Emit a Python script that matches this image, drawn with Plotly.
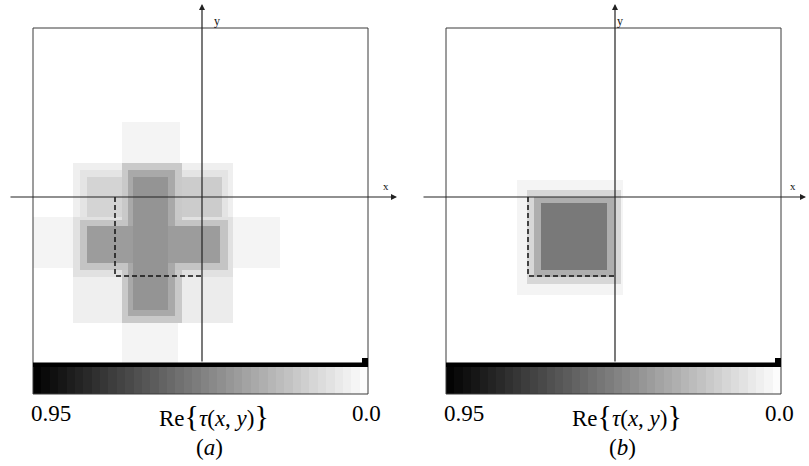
import numpy as np
import plotly.graph_objects as go

W, H = 809, 466

# ---- data: Re{tau(x,y)} patches (x right, y up, origin at axes crossing) ----
a_x0 = [-169, -80, -80, -129, -27, -129, -122, -115, -20, -80, -74, -69, -129, -122, -115]
a_x1 = [78, -22, -24, -74, 31, 31, 26, -80, 20, -20, -27, -34, 31, 26, 18]
a_y0 = [-71, 34, -166, -126, -126, -20, -20, -20, -20, -126, -119, -113, -80, -73, -66]
a_y1 = [-20, 75, -126, -73, -73, 34, 27, 20, 20, 34, 27, 20, -20, -23, -29]
a_tau = [0.04, 0.04, 0.04, 0.06, 0.07, 0.06, 0.10, 0.16, 0.19, 0.20, 0.32, 0.40, 0.11, 0.22, 0.37]

b_x0 = [-98, -88, -81, -74]
b_x1 = [8, 6, -1, -8]
b_y0 = [-98, -87, -80, -73]
b_y1 = [17, 7, 0, -6]
b_tau = [0.04, 0.15, 0.30, 0.50]

aperture_x = [-87, -87, 0]
aperture_y = [0, -79, -79]

tau_max, tau_min = 0.95, 0.0
colorbar_labels = ["0.95", "0.0"]
panel_labels = ["(<i>a</i>)", "(<i>b</i>)"]

X_RANGE = [-169, 166]
Y_RANGE = [-166, 169]

SERIF = "Liberation Serif, Times New Roman, Times, serif"


def build_grid(x0, x1, y0, y1, tau):
    xe = sorted(set(x0 + x1 + X_RANGE))
    ye = sorted(set(y0 + y1 + Y_RANGE))
    z = np.zeros((len(ye) - 1, len(xe) - 1))
    for j in range(len(ye) - 1):
        cy = 0.5 * (ye[j] + ye[j + 1])
        for i in range(len(xe) - 1):
            cx = 0.5 * (xe[i] + xe[i + 1])
            v = 0.0
            for k in range(len(tau)):
                if x0[k] <= cx <= x1[k] and y0[k] <= cy <= y1[k]:
                    v = max(v, tau[k])
            z[j, i] = v
    return xe, ye, z


gray = [[0, "#ffffff"], [1, "#000000"]]

fig = go.Figure()

panels = [
    dict(data=(a_x0, a_x1, a_y0, a_y1, a_tau), left=33, axis_x=202, xa="x", ya="y", cxa="x3", cya="y3"),
    dict(data=(b_x0, b_x1, b_y0, b_y1, b_tau), left=446, axis_x=615, xa="x2", ya="y2", cxa="x4", cya="y4"),
]

TOP, IMG_BOT, CB_TOP, CB_BOT = 28, 363, 367, 394
WIDTH = 335
AXIS_Y = 197

shapes = []
annotations = []
layout_axes = {}


def px(xp):
    return xp / W


def py(yp):
    return 1 - yp / H


cb_edges = np.linspace(tau_min, tau_max, 41)
cb_centers = 0.5 * (cb_edges[:-1] + cb_edges[1:])

for n, p in enumerate(panels):
    xe, ye, z = build_grid(*p["data"])
    fig.add_trace(go.Heatmap(x=xe, y=ye, z=z, zmin=tau_min, zmax=tau_max,
                             colorscale=gray, showscale=False, xaxis=p["xa"], yaxis=p["ya"],
                             hoverinfo="skip"))
    fig.add_trace(go.Scatter(x=aperture_x, y=aperture_y, mode="lines",
                             line=dict(color="#111111", width=1.5, dash="5px,3px"),
                             xaxis=p["xa"], yaxis=p["ya"], showlegend=False, hoverinfo="skip"))
    # colorbar strip
    fig.add_trace(go.Heatmap(x=cb_edges, y=[0, 1], z=[cb_centers], zmin=tau_min, zmax=tau_max,
                             colorscale=gray, showscale=False, xaxis=p["cxa"], yaxis=p["cya"],
                             hoverinfo="skip"))
    L = p["left"]
    R = L + WIDTH
    dom_x = [px(L), px(R)]
    sfx = "" if n == 0 else "2"
    csfx = "3" if n == 0 else "4"
    layout_axes["xaxis" + sfx] = dict(domain=dom_x, range=X_RANGE, visible=False, anchor="y" + sfx)
    layout_axes["yaxis" + sfx] = dict(domain=[py(IMG_BOT), py(TOP)], range=Y_RANGE, visible=False, anchor="x" + sfx)
    layout_axes["xaxis" + csfx] = dict(domain=dom_x, range=[tau_max, tau_min], visible=False, anchor="y" + csfx)
    layout_axes["yaxis" + csfx] = dict(domain=[py(CB_BOT), py(CB_TOP)], range=[0, 1], visible=False, anchor="x" + csfx)

    # frame
    shapes.append(dict(type="rect", xref="paper", yref="paper", x0=px(L), x1=px(R), y0=py(CB_BOT), y1=py(TOP),
                       line=dict(color="#3a3a3a", width=1), fillcolor="rgba(0,0,0,0)", layer="above"))
    # black strip above colour bar and small block
    shapes.append(dict(type="rect", xref="paper", yref="paper", x0=px(L), x1=px(R), y0=py(CB_TOP), y1=py(IMG_BOT - 0.5),
                       line=dict(width=0), fillcolor="#000000", layer="above"))
    shapes.append(dict(type="rect", xref="paper", yref="paper", x0=px(R - 6), x1=px(R), y0=py(IMG_BOT), y1=py(IMG_BOT - 5),
                       line=dict(width=0), fillcolor="#000000", layer="above"))
    ax_x = p["axis_x"]
    # y axis with arrow
    annotations.append(dict(x=px(ax_x), y=py(4), xref="paper", yref="paper", text="", showarrow=True,
                            ax=0, ay=IMG_BOT - 4, axref="pixel", ayref="pixel",
                            arrowhead=2, arrowsize=1, arrowwidth=1.2, arrowcolor="#222222", standoff=0))
    # x axis with arrow
    annotations.append(dict(x=px(R + 29 if n == 0 else R + 25), y=py(AXIS_Y), xref="paper", yref="paper", text="",
                            showarrow=True, ax=-(WIDTH + 53 if n == 0 else WIDTH + 49), ay=0,
                            arrowhead=2, arrowsize=1, arrowwidth=1.2, arrowcolor="#222222", standoff=0))
    annotations.append(dict(x=px(ax_x + 10), y=py(12), xref="paper", yref="paper", text="y", showarrow=False,
                            font=dict(family=SERIF, size=12, color="#111111")))
    annotations.append(dict(x=px(R + 18 if n == 0 else R + 17), y=py(186), xref="paper", yref="paper", text="x",
                            showarrow=False, font=dict(family=SERIF, size=11, color="#111111")))
    # colour bar labels
    font = dict(family=SERIF, size=23, color="#000000")
    annotations.append(dict(x=px(L - 4), y=py(413), xref="paper", yref="paper", text=colorbar_labels[0],
                            showarrow=False, xanchor="left", yanchor="middle", font=font))
    annotations.append(dict(x=px(R + 15), y=py(413), xref="paper", yref="paper", text=colorbar_labels[1],
                            showarrow=False, xanchor="right", yanchor="middle", font=font))
    annotations.append(dict(x=px(L + 181), y=py(415), xref="paper", yref="paper",
                            text="Re<span style='font-size:30px'>{</span><i>τ</i>(<i>x</i>, <i>y</i>)<span style='font-size:30px'>}</span>",
                            showarrow=False, xanchor="center", yanchor="middle", font=font))
    annotations.append(dict(x=px(L + 176), y=py(447), xref="paper", yref="paper", text=panel_labels[n],
                            showarrow=False, xanchor="center", yanchor="middle", font=font))

fig.update_layout(width=W, height=H, margin=dict(l=0, r=0, t=0, b=0),
                  paper_bgcolor="white", plot_bgcolor="white", showlegend=False,
                  shapes=shapes, annotations=annotations, **layout_axes)

fig.write_html("out.html", config={"displayModeBar": False},
               post_script="document.body.style.margin='0';document.body.style.overflow='hidden';")
